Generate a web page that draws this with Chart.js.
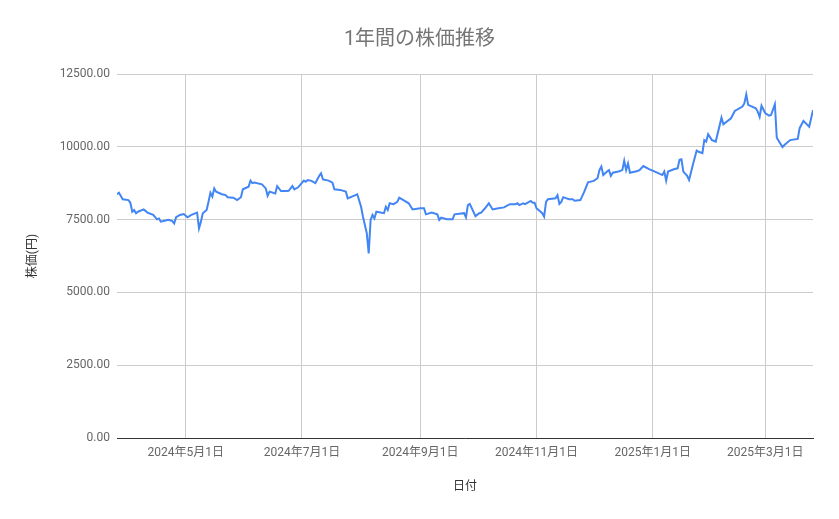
<!DOCTYPE html>
<html lang="ja">
<head>
<meta charset="utf-8">
<title>1年間の株価推移</title>
<script src="https://cdn.jsdelivr.net/npm/chart.js@4.4.1/dist/chart.umd.min.js"></script>
<style>
  html, body { margin: 0; padding: 0; background: #fff; }
  canvas { display: block; }
</style>
</head>
<body>
<canvas id="chart" width="839" height="519"></canvas>
<script>
// data
const dates = [
  "2024-03-26", "2024-03-27", "2024-03-28", "2024-03-29", "2024-04-01", "2024-04-02", "2024-04-03", "2024-04-04",
  "2024-04-05", "2024-04-06", "2024-04-09", "2024-04-11", "2024-04-14", "2024-04-16", "2024-04-17", "2024-04-18",
  "2024-04-20", "2024-04-22", "2024-04-24", "2024-04-25", "2024-04-26", "2024-04-28", "2024-04-30", "2024-05-02",
  "2024-05-04", "2024-05-07", "2024-05-08", "2024-05-09", "2024-05-10", "2024-05-12", "2024-05-13", "2024-05-14",
  "2024-05-15", "2024-05-16", "2024-05-17", "2024-05-20", "2024-05-22", "2024-05-23", "2024-05-26", "2024-05-28",
  "2024-05-30", "2024-05-31", "2024-06-03", "2024-06-04", "2024-06-05", "2024-06-06", "2024-06-10", "2024-06-12",
  "2024-06-13", "2024-06-14", "2024-06-17", "2024-06-18", "2024-06-20", "2024-06-23", "2024-06-24", "2024-06-26",
  "2024-06-27", "2024-06-29", "2024-07-02", "2024-07-03", "2024-07-04", "2024-07-06", "2024-07-08", "2024-07-10",
  "2024-07-11", "2024-07-12", "2024-07-15", "2024-07-17", "2024-07-18", "2024-07-21", "2024-07-24", "2024-07-25",
  "2024-07-30", "2024-08-01", "2024-08-02", "2024-08-04", "2024-08-05", "2024-08-06", "2024-08-07", "2024-08-08",
  "2024-08-09", "2024-08-13", "2024-08-14", "2024-08-15", "2024-08-16", "2024-08-18", "2024-08-20", "2024-08-21",
  "2024-08-26", "2024-08-28", "2024-09-01", "2024-09-03", "2024-09-04", "2024-09-07", "2024-09-10", "2024-09-11",
  "2024-09-12", "2024-09-15", "2024-09-18", "2024-09-19", "2024-09-24", "2024-09-25", "2024-09-26", "2024-09-27",
  "2024-09-30", "2024-10-02", "2024-10-03", "2024-10-05", "2024-10-07", "2024-10-09", "2024-10-12", "2024-10-15",
  "2024-10-18", "2024-10-21", "2024-10-22", "2024-10-23", "2024-10-25", "2024-10-26", "2024-10-29", "2024-10-30",
  "2024-10-31", "2024-11-01", "2024-11-04", "2024-11-05", "2024-11-06", "2024-11-07", "2024-11-11", "2024-11-12",
  "2024-11-13", "2024-11-14", "2024-11-15", "2024-11-18", "2024-11-20", "2024-11-21", "2024-11-24", "2024-11-26",
  "2024-11-28", "2024-12-01", "2024-12-03", "2024-12-04", "2024-12-05", "2024-12-06", "2024-12-08", "2024-12-09",
  "2024-12-10", "2024-12-11", "2024-12-14", "2024-12-16", "2024-12-17", "2024-12-18", "2024-12-19", "2024-12-20",
  "2024-12-24", "2024-12-25", "2024-12-27", "2024-12-30", "2025-01-03", "2025-01-06", "2025-01-07", "2025-01-08",
  "2025-01-09", "2025-01-12", "2025-01-14", "2025-01-15", "2025-01-16", "2025-01-17", "2025-01-19", "2025-01-20",
  "2025-01-22", "2025-01-24", "2025-01-25", "2025-01-27", "2025-01-28", "2025-01-29", "2025-01-30", "2025-02-01",
  "2025-02-03", "2025-02-06", "2025-02-07", "2025-02-11", "2025-02-13", "2025-02-17", "2025-02-18", "2025-02-19",
  "2025-02-20", "2025-02-24", "2025-02-25", "2025-02-26", "2025-02-27", "2025-03-01", "2025-03-03", "2025-03-04",
  "2025-03-06", "2025-03-07", "2025-03-10", "2025-03-11", "2025-03-14", "2025-03-18", "2025-03-19", "2025-03-21",
  "2025-03-24", "2025-03-26"
];

const prices = [
  8370, 8420, 8310, 8200, 8170, 8080, 7770, 7830,
  7720, 7770, 7850, 7740, 7660, 7510, 7540, 7430,
  7460, 7490, 7450, 7370, 7580, 7660, 7690, 7580,
  7660, 7740, 7200, 7430, 7720, 7830, 8110, 8420,
  8290, 8570, 8460, 8370, 8340, 8270, 8250, 8170,
  8270, 8540, 8630, 8840, 8750, 8770, 8710, 8570,
  8320, 8460, 8400, 8650, 8480, 8480, 8490, 8650,
  8540, 8610, 8840, 8800, 8860, 8830, 8750, 9000,
  9090, 8880, 8840, 8770, 8540, 8520, 8460, 8230,
  8370, 7940, 7600, 7030, 6340, 7490, 7660, 7540,
  7770, 7720, 7940, 7830, 8060, 8030, 8110, 8250,
  8060, 7850, 7890, 7890, 7680, 7740, 7680, 7490,
  7570, 7510, 7510, 7680, 7720, 7580, 8000, 8040,
  7620, 7720, 7740, 7890, 8060, 7850, 7890, 7920,
  8030, 8030, 8060, 8000, 8060, 8030, 8140, 8080,
  8080, 7890, 7720, 7600, 8110, 8200, 8230, 8340,
  8040, 8110, 8270, 8200, 8200, 8150, 8170, 8450,
  8780, 8830, 8920, 9200, 9320, 9030, 9150, 9200,
  9000, 9110, 9150, 9200, 9520, 9200, 9430, 9110,
  9170, 9200, 9340, 9230, 9120, 9030, 9150, 8840,
  9150, 9230, 9260, 9550, 9570, 9150, 9000, 8860,
  9380, 9870, 9830, 9780, 10230, 10180, 10430, 10230,
  10180, 11000, 10770, 10980, 11230, 11380, 11490, 11800,
  11440, 11320, 11210, 11030, 11410, 11150, 11070, 11090,
  11460, 10310, 9990, 10060, 10230, 10270, 10640, 10890,
  10690, 11260
];

const tickDates = ["2024-05-01", "2024-07-01", "2024-09-01", "2024-11-01", "2025-01-01", "2025-03-01"];
const xRange = ["2024-03-26", "2025-03-26"];
const yTicks = [0, 2500, 5000, 7500, 10000, 12500];

const FONT = "Roboto, 'Noto Sans CJK JP', sans-serif";

function formatDate(ms) {
  const d = new Date(ms);
  return `${d.getUTCFullYear()}年${d.getUTCMonth() + 1}月${d.getUTCDate()}日`;
}

const points = dates.map((d, i) => ({ x: Date.parse(d), y: prices[i] }));

new Chart(document.getElementById("chart"), {
  type: "line",
  data: {
    datasets: [{
      label: "株価",
      data: points,
      borderColor: "#4285F4",
      borderWidth: 2,
      pointRadius: 0,
      tension: 0,
      fill: false
    }]
  },
  options: {
    responsive: false,
    animation: false,
    devicePixelRatio: 1,
    // symmetric side padding so the title sits in the middle of the canvas
    layout: { padding: { left: 26, right: 26, top: 0, bottom: 0 } },
    plugins: {
      legend: { display: false },
      tooltip: { enabled: false },
      title: {
        display: true,
        text: "1年間の株価推移",
        color: "#757575",
        font: { family: FONT, size: 20, weight: "normal" },
        padding: { top: 28, bottom: 22 }
      }
    },
    scales: {
      x: {
        type: "linear",
        min: Date.parse(xRange[0]),
        max: Date.parse(xRange[1]),
        afterBuildTicks: scale => {
          scale.ticks = tickDates.map(d => ({ value: Date.parse(d) }));
        },
        afterFit: scale => { scale.height = 81; },
        grid: { color: "#cccccc", drawTicks: false },
        border: { display: true, color: "#333333", width: 1 },
        ticks: {
          autoSkip: false,
          maxRotation: 0,
          padding: 8,
          color: "#666666",
          font: { family: FONT, size: 12 },
          callback: v => formatDate(v)
        },
        title: {
          display: true,
          text: "日付",
          color: "#333333",
          font: { family: FONT, size: 12 },
          padding: { top: 0, bottom: 25 }
        }
      },
      y: {
        min: yTicks[0],
        max: yTicks[yTicks.length - 1],
        afterBuildTicks: scale => {
          scale.ticks = yTicks.map(v => ({ value: v }));
        },
        afterFit: scale => { scale.width = 91; },
        grid: { color: "#cccccc", drawTicks: false },
        border: { display: false },
        ticks: {
          padding: 7,
          color: "#666666",
          font: { family: FONT, size: 12 },
          callback: v => Number(v).toFixed(2)
        },
        title: {
          display: true,
          text: "株価(円)",
          color: "#333333",
          font: { family: FONT, size: 12 },
          padding: { top: 0, bottom: 0 }
        }
      }
    }
  }
});
</script>
</body>
</html>
